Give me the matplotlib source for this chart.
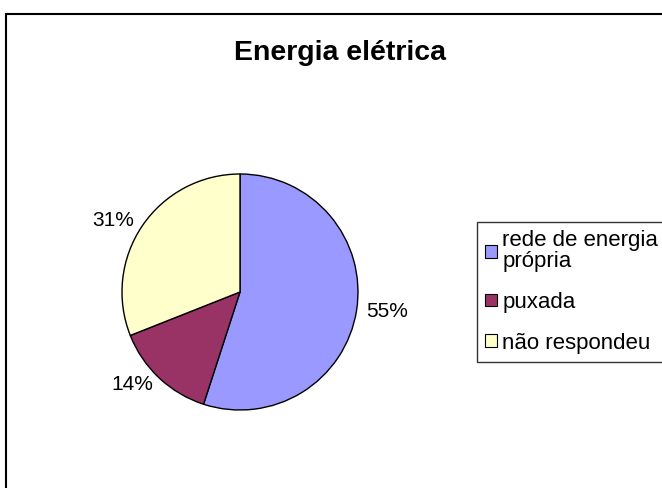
import matplotlib
matplotlib.use("Agg")
import matplotlib.pyplot as plt
from matplotlib.patches import Rectangle, Patch

plt.rcParams['font.family'] = ['Liberation Sans', 'DejaVu Sans']

categories = ["rede de energia\nprópria", "puxada", "não respondeu"]
values = [55, 14, 31]
colors = ["#9999FF", "#993366", "#FFFFCC"]
title = "Energia elétrica"

W, H = 662, 488
fig = plt.figure(figsize=(W / 100, H / 100), dpi=100)

# outer chart frame (clipped on right/bottom like reference)
fig.patches.append(Rectangle((6 / W, -0.05), 1.1, 1 - 14 / H + 0.05,
                             transform=fig.transFigure, fill=False,
                             edgecolor="black", linewidth=1.5, clip_on=False))

fig.text(340 / W, 1 - 60 / H, title, ha="center", va="baseline",
         fontsize=20.5, fontweight="bold")

ax = fig.add_axes([122 / W, 78 / H, 236 / W, 236 / H])
wedges, texts = ax.pie(values, colors=colors, startangle=90, counterclock=False,
                       labels=[f"{v}%" for v in values], labeldistance=1.08,
                       wedgeprops=dict(edgecolor="black", linewidth=1.0),
                       textprops=dict(fontsize=15))
ax.set_aspect("equal")
ax.set_xlim(-1, 1)
ax.set_ylim(-1, 1)

handles = [Patch(facecolor=c, edgecolor="black", linewidth=0.8) for c in colors]
leg = fig.legend(handles, categories, loc="upper left",
                 bbox_to_anchor=(477 / W, 1 - 222 / H),
                 frameon=True, fancybox=False, fontsize=16,
                 handlelength=0.5, handleheight=0.5, handletextpad=0.25,
                 labelspacing=0.88, borderpad=0.38, borderaxespad=0)
for t in leg.get_texts():
    t.set_linespacing(1.0)
leg.get_frame().set_edgecolor("black")
leg.get_frame().set_linewidth(1.0)

fig.savefig("out.png", dpi=100)
